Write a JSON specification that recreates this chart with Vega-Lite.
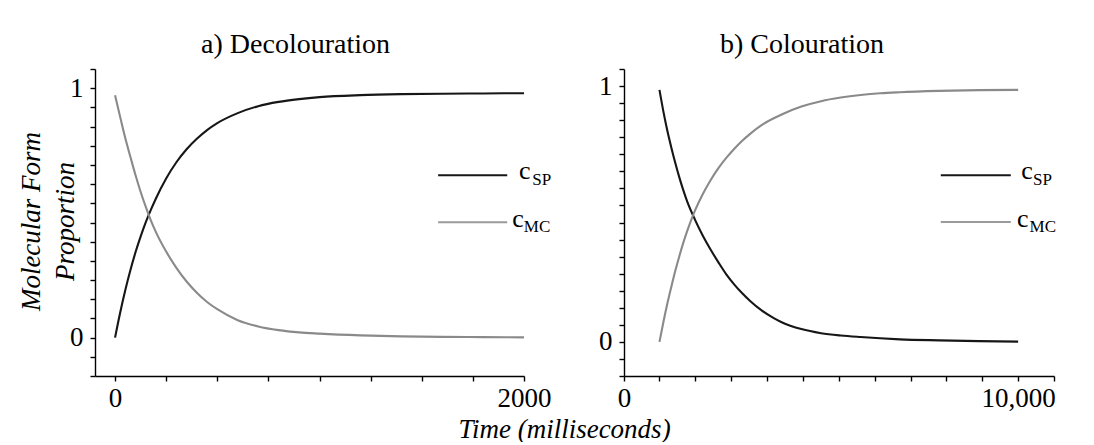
{
  "$schema": "https://vega.github.io/schema/vega-lite/v6.json",
  "background": "white",
  "padding": {"left": 16, "top": 31, "right": 0, "bottom": 0},
  "bounds": "flush",
  "spacing": 100,
  "datasets": {
    "decol": [
      {"t": 0, "series": "c_SP", "v": 0.0},
      {"t": 25, "series": "c_SP", "v": 0.1},
      {"t": 50, "series": "c_SP", "v": 0.19},
      {"t": 75, "series": "c_SP", "v": 0.27},
      {"t": 100, "series": "c_SP", "v": 0.342},
      {"t": 125, "series": "c_SP", "v": 0.405},
      {"t": 150, "series": "c_SP", "v": 0.462},
      {"t": 175, "series": "c_SP", "v": 0.512},
      {"t": 200, "series": "c_SP", "v": 0.558},
      {"t": 250, "series": "c_SP", "v": 0.638},
      {"t": 300, "series": "c_SP", "v": 0.703},
      {"t": 350, "series": "c_SP", "v": 0.755},
      {"t": 400, "series": "c_SP", "v": 0.797},
      {"t": 450, "series": "c_SP", "v": 0.832},
      {"t": 500, "series": "c_SP", "v": 0.86},
      {"t": 600, "series": "c_SP", "v": 0.9},
      {"t": 700, "series": "c_SP", "v": 0.928},
      {"t": 800, "series": "c_SP", "v": 0.945},
      {"t": 900, "series": "c_SP", "v": 0.956},
      {"t": 1000, "series": "c_SP", "v": 0.964},
      {"t": 1200, "series": "c_SP", "v": 0.972},
      {"t": 1400, "series": "c_SP", "v": 0.976},
      {"t": 1600, "series": "c_SP", "v": 0.978},
      {"t": 1800, "series": "c_SP", "v": 0.979},
      {"t": 2000, "series": "c_SP", "v": 0.98},
      {"t": 0, "series": "c_MC", "v": 0.972},
      {"t": 25, "series": "c_MC", "v": 0.885},
      {"t": 50, "series": "c_MC", "v": 0.8},
      {"t": 75, "series": "c_MC", "v": 0.725},
      {"t": 100, "series": "c_MC", "v": 0.652},
      {"t": 125, "series": "c_MC", "v": 0.585},
      {"t": 150, "series": "c_MC", "v": 0.525},
      {"t": 175, "series": "c_MC", "v": 0.47},
      {"t": 200, "series": "c_MC", "v": 0.423},
      {"t": 250, "series": "c_MC", "v": 0.345},
      {"t": 300, "series": "c_MC", "v": 0.28},
      {"t": 350, "series": "c_MC", "v": 0.225},
      {"t": 400, "series": "c_MC", "v": 0.18},
      {"t": 450, "series": "c_MC", "v": 0.143},
      {"t": 500, "series": "c_MC", "v": 0.114},
      {"t": 600, "series": "c_MC", "v": 0.07},
      {"t": 700, "series": "c_MC", "v": 0.045},
      {"t": 800, "series": "c_MC", "v": 0.03},
      {"t": 900, "series": "c_MC", "v": 0.021},
      {"t": 1000, "series": "c_MC", "v": 0.016},
      {"t": 1200, "series": "c_MC", "v": 0.009},
      {"t": 1400, "series": "c_MC", "v": 0.005},
      {"t": 1600, "series": "c_MC", "v": 0.003},
      {"t": 1800, "series": "c_MC", "v": 0.002},
      {"t": 2000, "series": "c_MC", "v": 0.001}
    ],
    "col": [
      {"t": 900, "series": "c_SP", "v": 0.985},
      {"t": 1000, "series": "c_SP", "v": 0.9},
      {"t": 1100, "series": "c_SP", "v": 0.825},
      {"t": 1200, "series": "c_SP", "v": 0.76},
      {"t": 1300, "series": "c_SP", "v": 0.7},
      {"t": 1400, "series": "c_SP", "v": 0.645},
      {"t": 1500, "series": "c_SP", "v": 0.595},
      {"t": 1600, "series": "c_SP", "v": 0.55},
      {"t": 1800, "series": "c_SP", "v": 0.478},
      {"t": 2000, "series": "c_SP", "v": 0.415},
      {"t": 2200, "series": "c_SP", "v": 0.36},
      {"t": 2400, "series": "c_SP", "v": 0.31},
      {"t": 2600, "series": "c_SP", "v": 0.263},
      {"t": 2800, "series": "c_SP", "v": 0.224},
      {"t": 3000, "series": "c_SP", "v": 0.19},
      {"t": 3200, "series": "c_SP", "v": 0.16},
      {"t": 3500, "series": "c_SP", "v": 0.122},
      {"t": 3800, "series": "c_SP", "v": 0.093},
      {"t": 4000, "series": "c_SP", "v": 0.077},
      {"t": 4500, "series": "c_SP", "v": 0.05},
      {"t": 5000, "series": "c_SP", "v": 0.034},
      {"t": 5500, "series": "c_SP", "v": 0.025},
      {"t": 6000, "series": "c_SP", "v": 0.019},
      {"t": 6500, "series": "c_SP", "v": 0.014},
      {"t": 7000, "series": "c_SP", "v": 0.01},
      {"t": 8000, "series": "c_SP", "v": 0.006},
      {"t": 9000, "series": "c_SP", "v": 0.003},
      {"t": 10000, "series": "c_SP", "v": 0.001},
      {"t": 900, "series": "c_MC", "v": 0.0},
      {"t": 1000, "series": "c_MC", "v": 0.078},
      {"t": 1100, "series": "c_MC", "v": 0.15},
      {"t": 1200, "series": "c_MC", "v": 0.215},
      {"t": 1300, "series": "c_MC", "v": 0.277},
      {"t": 1400, "series": "c_MC", "v": 0.333},
      {"t": 1500, "series": "c_MC", "v": 0.385},
      {"t": 1600, "series": "c_MC", "v": 0.432},
      {"t": 1800, "series": "c_MC", "v": 0.513},
      {"t": 2000, "series": "c_MC", "v": 0.578},
      {"t": 2200, "series": "c_MC", "v": 0.633},
      {"t": 2400, "series": "c_MC", "v": 0.68},
      {"t": 2600, "series": "c_MC", "v": 0.72},
      {"t": 2800, "series": "c_MC", "v": 0.755},
      {"t": 3000, "series": "c_MC", "v": 0.786},
      {"t": 3200, "series": "c_MC", "v": 0.813},
      {"t": 3500, "series": "c_MC", "v": 0.848},
      {"t": 3800, "series": "c_MC", "v": 0.874},
      {"t": 4000, "series": "c_MC", "v": 0.889},
      {"t": 4500, "series": "c_MC", "v": 0.92},
      {"t": 5000, "series": "c_MC", "v": 0.941},
      {"t": 5500, "series": "c_MC", "v": 0.955},
      {"t": 6000, "series": "c_MC", "v": 0.965},
      {"t": 6500, "series": "c_MC", "v": 0.972},
      {"t": 7000, "series": "c_MC", "v": 0.976},
      {"t": 8000, "series": "c_MC", "v": 0.981},
      {"t": 9000, "series": "c_MC", "v": 0.984},
      {"t": 10000, "series": "c_MC", "v": 0.985}
    ]
  },
  "hconcat": [
    {
      "width": 429,
      "height": 307,
      "title": {"text": "a) Decolouration", "anchor": "middle", "dx": -14, "offset": -26, "baseline": "alphabetic"},
      "resolve": {"axis": {"x": "independent", "y": "independent"}},
      "layer": [
        {
          "data": {"name": "decol"},
          "mark": {"type": "line", "strokeWidth": 2.1, "interpolate": "monotone"},
          "encoding": {
            "x": {
              "field": "t", "type": "quantitative",
              "scale": {"domain": [-98, 2000], "nice": false, "zero": false},
              "axis": {
                "values": [0, 250, 500, 750, 1000, 1250, 1500, 1750, 2000],
                "labelExpr": "datum.value == 0 || datum.value == 2000 ? datum.value + '' : ''",
                "title": "Time (milliseconds)",
                "titleX": 469, "titleY": 61, "titleBaseline": "alphabetic", "titleAlign": "center"
              }
            },
            "y": {
              "field": "v", "type": "quantitative",
              "scale": {"domain": [-0.153846, 1.076923], "nice": false, "zero": false},
              "axis": {
                "values": [-0.153846, -0.076923, 0, 0.076923, 0.153846, 0.230769, 0.307692, 0.384615, 0.461538, 0.538462, 0.615385, 0.692308, 0.769231, 0.846154, 0.923077, 1, 1.076923],
                "labelExpr": "datum.value == 0 ? '0' : (datum.value == 1 ? '1' : '')",
                "labelPadding": 7,
                "title": ["Molecular Form", "Proportion"],
                "titleX": -50, "titleY": 152, "titleLineHeight": 34
              }
            },
            "color": {
              "field": "series", "type": "nominal", "legend": null,
              "scale": {"domain": ["c_SP", "c_MC"], "range": ["#161616", "#8a8a8a"]}
            }
          }
        },
        {
          "data": {"values": [{}]},
          "mark": {"type": "rule", "color": "#161616", "strokeWidth": 2},
          "encoding": {"x": {"datum": 1580, "axis": null}, "x2": {"datum": 1918}, "y": {"datum": 0.651, "axis": null}}
        },
        {
          "data": {"values": [{}]},
          "mark": {"type": "rule", "color": "#9a9a9a", "strokeWidth": 2},
          "encoding": {"x": {"datum": 1580, "axis": null}, "x2": {"datum": 1918}, "y": {"datum": 0.463, "axis": null}}
        },
        {
          "data": {"values": [{}]},
          "mark": {"type": "text", "text": "c", "align": "left", "baseline": "alphabetic", "fontSize": 26, "font": "Liberation Serif", "color": "black"},
          "encoding": {"x": {"datum": 1976, "axis": null}, "y": {"datum": 0.637, "axis": null}}
        },
        {
          "data": {"values": [{}]},
          "mark": {"type": "text", "text": "SP", "align": "left", "baseline": "alphabetic", "fontSize": 17, "font": "Liberation Serif", "color": "black"},
          "encoding": {"x": {"datum": 2040, "axis": null}, "y": {"datum": 0.613, "axis": null}}
        },
        {
          "data": {"values": [{}]},
          "mark": {"type": "text", "text": "c", "align": "left", "baseline": "alphabetic", "fontSize": 26, "font": "Liberation Serif", "color": "black"},
          "encoding": {"x": {"datum": 1942, "axis": null}, "y": {"datum": 0.443, "axis": null}}
        },
        {
          "data": {"values": [{}]},
          "mark": {"type": "text", "text": "MC", "align": "left", "baseline": "alphabetic", "fontSize": 17, "font": "Liberation Serif", "color": "black"},
          "encoding": {"x": {"datum": 1999, "axis": null}, "y": {"datum": 0.423, "axis": null}}
        }
      ]
    },
    {
      "width": 430,
      "height": 307,
      "title": {"text": "b) Colouration", "anchor": "middle", "dx": -37, "offset": -26, "baseline": "alphabetic"},
      "resolve": {"axis": {"x": "independent", "y": "independent"}},
      "layer": [
        {
          "data": {"name": "col"},
          "mark": {"type": "line", "strokeWidth": 2.1, "interpolate": "monotone"},
          "encoding": {
            "x": {
              "field": "t", "type": "quantitative",
              "scale": {"domain": [0, 10910], "nice": false, "zero": false},
              "axis": {
                "values": [0, 900, 1810, 2720, 3630, 4540, 5450, 6360, 7270, 8180, 9090, 10000, 10910],
                "labelExpr": "datum.value == 0 ? '0' : (datum.value == 10000 ? '10,000' : '')",
                "title": null
              }
            },
            "y": {
              "field": "v", "type": "quantitative",
              "scale": {"domain": [-0.133333, 1.066667], "nice": false, "zero": false},
              "axis": {
                "values": [-0.133333, -0.066667, 0, 0.066667, 0.133333, 0.2, 0.266667, 0.333333, 0.4, 0.466667, 0.533333, 0.6, 0.666667, 0.733333, 0.8, 0.866667, 0.933333, 1, 1.066667],
                "labelExpr": "datum.value == 0 ? '0' : (datum.value == 1 ? '1' : '')",
                "labelPadding": 7,
                "title": null
              }
            },
            "color": {
              "field": "series", "type": "nominal", "legend": null,
              "scale": {"domain": ["c_SP", "c_MC"], "range": ["#161616", "#8a8a8a"]}
            }
          }
        },
        {
          "data": {"values": [{}]},
          "mark": {"type": "rule", "color": "#161616", "strokeWidth": 2},
          "encoding": {"x": {"datum": 8038, "axis": null}, "x2": {"datum": 9814}, "y": {"datum": 0.651, "axis": null}}
        },
        {
          "data": {"values": [{}]},
          "mark": {"type": "rule", "color": "#9a9a9a", "strokeWidth": 2},
          "encoding": {"x": {"datum": 8038, "axis": null}, "x2": {"datum": 9814}, "y": {"datum": 0.469, "axis": null}}
        },
        {
          "data": {"values": [{}]},
          "mark": {"type": "text", "text": "c", "align": "left", "baseline": "alphabetic", "fontSize": 26, "font": "Liberation Serif", "color": "black"},
          "encoding": {"x": {"datum": 10076, "axis": null}, "y": {"datum": 0.638, "axis": null}}
        },
        {
          "data": {"values": [{}]},
          "mark": {"type": "text", "text": "SP", "align": "left", "baseline": "alphabetic", "fontSize": 17, "font": "Liberation Serif", "color": "black"},
          "encoding": {"x": {"datum": 10380, "axis": null}, "y": {"datum": 0.615, "axis": null}}
        },
        {
          "data": {"values": [{}]},
          "mark": {"type": "text", "text": "c", "align": "left", "baseline": "alphabetic", "fontSize": 26, "font": "Liberation Serif", "color": "black"},
          "encoding": {"x": {"datum": 9974, "axis": null}, "y": {"datum": 0.45, "axis": null}}
        },
        {
          "data": {"values": [{}]},
          "mark": {"type": "text", "text": "MC", "align": "left", "baseline": "alphabetic", "fontSize": 17, "font": "Liberation Serif", "color": "black"},
          "encoding": {"x": {"datum": 10290, "axis": null}, "y": {"datum": 0.43, "axis": null}}
        }
      ]
    }
  ],
  "config": {
    "view": {"stroke": null},
    "font": "Liberation Serif",
    "title": {"font": "Liberation Serif", "fontSize": 28, "fontWeight": "normal", "color": "black"},
    "axis": {
      "grid": false,
      "domainColor": "black",
      "domainWidth": 1.4,
      "tickColor": "black",
      "tickWidth": 1.4,
      "tickSize": 5,
      "labelFont": "Liberation Serif",
      "labelFontSize": 27,
      "labelColor": "black",
      "labelPadding": 4,
      "labelOverlap": false,
      "labelFlush": false,
      "titleFont": "Liberation Serif",
      "titleFontSize": 27,
      "titleFontStyle": "italic",
      "titleFontWeight": "normal",
      "titleColor": "black"
    }
  }
}
